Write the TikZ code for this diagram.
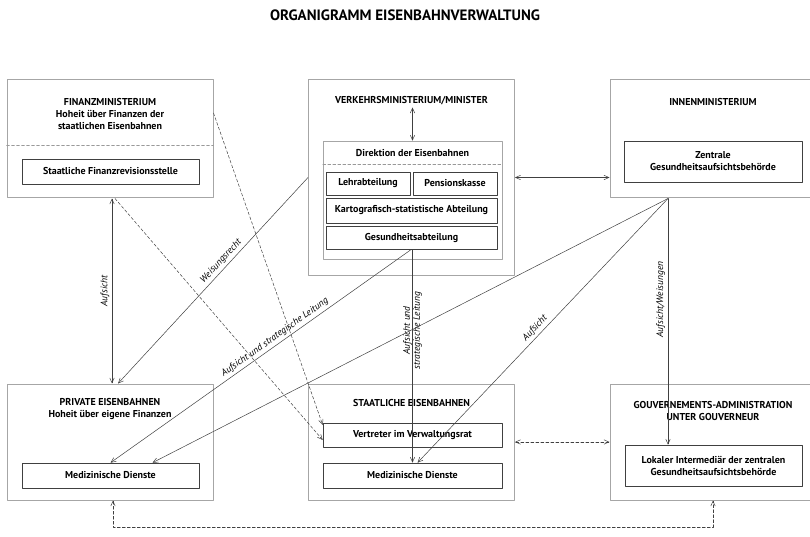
\documentclass[tikz,border=0pt]{standalone}
\usepackage{fontspec}
\setmainfont{PT Sans}
\usetikzlibrary{arrows.meta,calc}

\tikzset{
  outerbox/.style={draw=gray!70,line width=1pt,minimum width=206pt,inner sep=0pt},
  innerbox/.style={draw=black!75,line width=0.6pt,inner sep=0pt,font=\bfseries,align=center},
  head/.style={font=\bfseries,align=center,inner sep=0pt},
  lbl/.style={font=\itshape\fontsize{9.5}{10}\selectfont,inner sep=2.5pt,sloped},
  conn/.style={draw=black!75,line width=0.5pt}
}

\begin{document}
\begin{tikzpicture}[x=1pt,y=-1pt,line cap=round,line join=round,
    >={Straight Barb[length=5pt,width=4.5pt]},font=\fontsize{10.5}{13}\selectfont]
  \useasboundingbox (0,0) rectangle (810,537);
  \clip (0,0) rectangle (810,537);

  \node[head,font=\bfseries\fontsize{15}{17}\selectfont] (title) at (405,15) {ORGANIGRAMM EISENBAHNVERWALTUNG};

  % Ministerien
  \node[outerbox,minimum height=118pt] (fin) at (110,139) {};
  \node[head] (fintitle) at (110,114) {FINANZMINISTERIUM\\Hoheit über Finanzen der\\staatlichen Eisenbahnen};
  \coordinate (finsep) at (0,145);
  \draw[densely dashed,gray!80] (fin.west |- finsep) -- (fin.east |- finsep);
  \node[innerbox,minimum width=177pt,minimum height=25pt] (finrev) at (110.5,171.5) {Staatliche Finanzrevisionsstelle};

  \node[outerbox,minimum height=195pt] (verk) at (411.5,177.5) {};
  \node[head] (verktitle) at (411.5,101) {VERKEHRSMINISTERIUM/MINISTER};
  \node[innerbox,draw=gray!70,minimum width=179pt,minimum height=118pt] (dir) at (412.5,200) {};
  \node[head] (dirtitle) at (412.5,153) {Direktion der Eisenbahnen};
  \coordinate (dirsep) at (0,164);
  \draw[densely dashed,gray!80] (dir.west |- dirsep) -- (dir.east |- dirsep);
  \node[innerbox,minimum width=84pt,minimum height=23pt] (lehr) at (368,183.5) {Lehrabteilung};
  \node[innerbox,minimum width=84pt,minimum height=23pt] (pens) at (455,183.5) {Pensionskasse};
  \node[innerbox,minimum width=171pt,minimum height=25pt] (karto) at (411.5,210.5) {Kartografisch-statistische Abteilung};
  \node[innerbox,minimum width=171pt,minimum height=23pt] (gesund) at (411.5,237.5) {Gesundheitsabteilung};

  \node[outerbox,minimum height=118pt] (inn) at (713,139) {};
  \node[head] (inntitle) at (713,102) {INNENMINISTERIUM};
  \node[innerbox,minimum width=178pt,minimum height=41pt] (zentr) at (713,161.5) {Zentrale\\Gesundheitsaufsichtsbehörde};

  % Bahnen
  \node[outerbox,minimum height=116pt] (priv) at (110,442) {};
  \node[head] (privtitle) at (110,408.5) {PRIVATE EISENBAHNEN\\Hoheit über eigene Finanzen};
  \node[innerbox,minimum width=177pt,minimum height=25pt] (privmed) at (110.5,475.5) {Medizinische Dienste};

  \node[outerbox,minimum height=116pt] (staat) at (411.5,442) {};
  \node[head] (staattitle) at (411.5,403) {STAATLICHE EISENBAHNEN};
  \node[innerbox,minimum width=179pt,minimum height=24pt] (vertr) at (412.5,435) {Vertreter im Verwaltungsrat};
  \node[innerbox,minimum width=179pt,minimum height=25pt] (staatmed) at (412.5,475.5) {Medizinische Dienste};

  \node[outerbox,minimum height=116pt] (gouv) at (713,442) {};
  \node[head] (gouvtitle) at (713,410.5) {GOUVERNEMENTS-ADMINISTRATION\\UNTER GOUVERNEUR};
  \node[innerbox,minimum width=177pt,minimum height=41pt] (lok) at (713.5,465.5) {Lokaler Intermediär der zentralen\\Gesundheitsaufsichtsbehörde};

  % Verbindungen
  \coordinate (innfoot) at ([xshift=-45pt]inn.south);
  \coordinate (low) at (410,527);
  \draw[conn,<->] ([xshift=2pt]priv.north) -- node[lbl,above] {Aufsicht} ([xshift=2pt]fin.south);
  \draw[conn,densely dashed,->] ([yshift=26pt]fin.east) -- ([yshift=10pt]vertr.west);
  \draw[conn,densely dashed,->] ([xshift=5pt]fin.south) -- ([yshift=-5pt]vertr.west);
  \draw[conn,<-] ([xshift=8pt]priv.north) -- node[lbl,above,pos=0.57] {Weisungsrecht} (verk.west);
  \draw[conn,<-] (privmed.north) -- node[lbl,above,pos=0.56] {Aufsicht und strategische Leitung} (gesund.south);
  \draw[conn,<-] (staatmed.north) -- node[lbl,align=center,pos=0.62] {Aufsicht und\\strategische Leitung} (staatmed.north |- gesund.south);
  \draw[conn,<-] ([xshift=42pt]privmed.north) -- (innfoot);
  \draw[conn,<-] ([xshift=5pt]staatmed.north) -- node[lbl,above,pos=0.49] {Aufsicht} (innfoot);
  \draw[conn,<-] (innfoot |- lok.north) -- node[lbl,above,pos=0.59] {Aufsicht/Weisungen} (innfoot);
  \draw[conn,<->] (verk.east) -- (verk.east -| inn.west);
  \draw[conn,<->,densely dashed] (staat.east) -- (staat.east -| gouv.west);
  \draw[conn,<->,densely dashed] ([xshift=3pt]priv.south) |- (low) -| (gouv.south);
  \draw[conn,<->] ([yshift=-2pt]verktitle.south -| dir.north) -- (dir.north);
\end{tikzpicture}
\end{document}
